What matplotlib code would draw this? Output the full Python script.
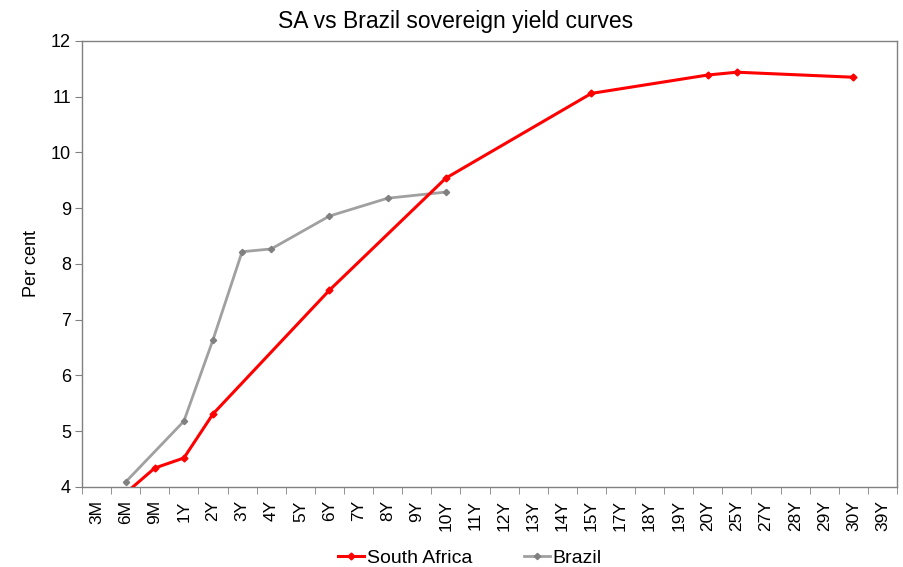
import matplotlib
matplotlib.use("Agg")
import matplotlib.pyplot as plt
import numpy as np

plt.rcParams["font.family"] = ["Liberation Sans", "DejaVu Sans"]

# ---------------------------------------------------------------
# Data
# ---------------------------------------------------------------
tenors = ["3M", "6M", "9M", "1Y", "2Y", "3Y", "4Y", "5Y", "6Y", "7Y", "8Y", "9Y",
          "10Y", "11Y", "12Y", "13Y", "14Y", "15Y", "17Y", "18Y", "19Y", "20Y",
          "25Y", "27Y", "28Y", "29Y", "30Y", "39Y"]

sa_tenors = ["6M", "9M", "1Y", "2Y", "6Y", "10Y", "15Y", "20Y", "25Y", "30Y"]
sa_yields = [3.89, 4.34, 4.52, 5.31, 7.53, 9.54, 11.06, 11.39, 11.44, 11.35]

br_tenors = ["6M", "1Y", "2Y", "3Y", "4Y", "6Y", "8Y", "10Y"]
br_yields = [4.09, 5.18, 6.64, 8.22, 8.27, 8.86, 9.18, 9.29]

pos = {t: i for i, t in enumerate(tenors)}
sa_x = [pos[t] for t in sa_tenors]
br_x = [pos[t] for t in br_tenors]

# ---------------------------------------------------------------
# Chart
# ---------------------------------------------------------------
fig = plt.figure(figsize=(9.04, 5.67), dpi=100)
ax = fig.add_axes([0.0907, 0.1411, 0.9016, 0.7866])

ax.plot(sa_x, sa_yields, color="#FF0000", lw=2.2, marker="D", ms=3.5,
        label="South Africa", zorder=3)
ax.plot(br_x, br_yields, color="#A0A0A0", lw=2.0, marker="D", ms=3.2,
        markerfacecolor="#808080", markeredgecolor="#808080",
        label="Brazil", zorder=2)

ax.set_xlim(-0.5, len(tenors) - 0.5)
ax.set_ylim(4, 12)
ax.set_yticks(range(4, 13))
ax.tick_params(axis="y", labelsize=13, length=5, color="#808080", pad=3)

ax.set_xticks(range(len(tenors)))
ax.set_xticklabels(tenors, rotation=90)
ax.set_xticks(np.arange(-0.5, len(tenors), 1.0), minor=True)
ax.tick_params(axis="x", which="major", length=0, labelsize=12.5, pad=9.5)
ax.tick_params(axis="x", which="minor", length=5, color="#808080")

for s in ax.spines.values():
    s.set_color("#808080")
    s.set_linewidth(1.0)

ax.set_ylabel("Per cent", fontsize=13, labelpad=8)
ax.set_title("SA vs Brazil sovereign yield curves", fontsize=16.5, pad=9, x=0.458)

fig.legend(*ax.get_legend_handles_labels(), loc="lower center",
           bbox_to_anchor=(0.52, -0.014), ncol=2, frameon=False, fontsize=14,
           handlelength=1.3, columnspacing=2.7, handletextpad=0.15,
           borderaxespad=0)

fig.savefig("out.png", dpi=100)
